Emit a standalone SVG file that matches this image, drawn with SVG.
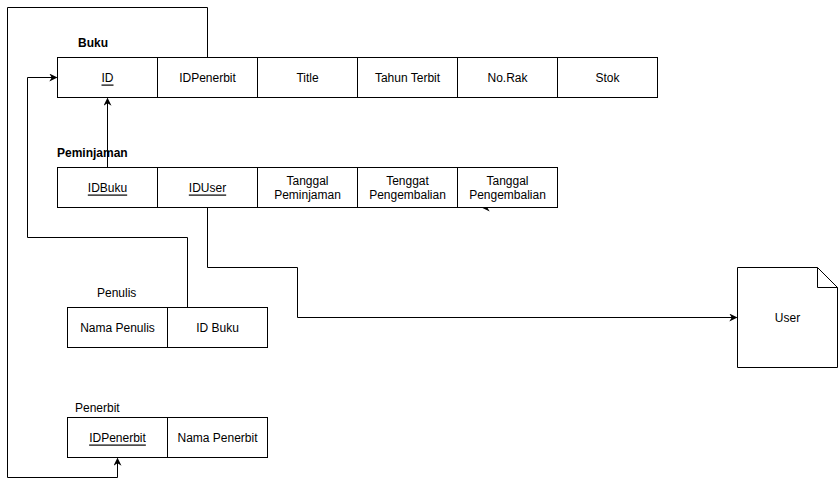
<svg xmlns="http://www.w3.org/2000/svg" width="838" height="487" viewBox="0 0 838 487">
  <style>
    .cell { fill: #ffffff; stroke: #000000; stroke-width: 1; }
    .t { font-family: "Liberation Sans", Arial, Helvetica, sans-serif; font-size: 12px; fill: #000000; text-anchor: middle; dominant-baseline: central; }
    .u { text-decoration: underline; }
    .title { font-family: "Liberation Sans", Arial, Helvetica, sans-serif; font-size: 12px; fill: #000000; }
    .b { font-weight: bold; }
    .edge { fill: none; stroke: #000000; stroke-width: 1; }
  </style>
  <defs>
    <marker id="arrow" viewBox="0 0 10 10" refX="9" refY="5" markerWidth="8" markerHeight="8" markerUnits="userSpaceOnUse" orient="auto">
      <path d="M0,0 L10,5 L0,10 L3,5 Z" fill="#000000"/>
    </marker>
  </defs>

  <rect width="838" height="487" fill="#ffffff"/>

  <!-- connectors -->
  <g id="connectors">
    <path class="edge" d="M207.5,57.5 V7.5 H7.5 V477.5 H117.5 V458.5" marker-end="url(#arrow)"/>
    <path class="edge" d="M107.5,167.5 V98.5" marker-end="url(#arrow)"/>
    <path class="edge" d="M187.5,307.5 V237.5 H27.5 V77.5 H56.5" marker-end="url(#arrow)"/>
    <path class="edge" d="M207.5,207.5 V267.5 H297.5 V317.5 H736.5" marker-end="url(#arrow)"/>
    <path class="edge" d="M492.5,207.5 H482.5" marker-end="url(#arrow)"/>
  </g>

  <!-- Buku -->
  <g id="buku">
    <text class="title b" x="78" y="47">Buku</text>
    <rect class="cell" x="57.5" y="57.5" width="100" height="40"/>
    <rect class="cell" x="157.5" y="57.5" width="100" height="40"/>
    <rect class="cell" x="257.5" y="57.5" width="100" height="40"/>
    <rect class="cell" x="357.5" y="57.5" width="100" height="40"/>
    <rect class="cell" x="457.5" y="57.5" width="100" height="40"/>
    <rect class="cell" x="557.5" y="57.5" width="100" height="40"/>
    <text class="t u" x="107.5" y="77.5">ID</text>
    <text class="t" x="207.5" y="77.5">IDPenerbit</text>
    <text class="t" x="307.5" y="77.5">Title</text>
    <text class="t" x="407.5" y="77.5">Tahun Terbit</text>
    <text class="t" x="507.5" y="77.5">No.Rak</text>
    <text class="t" x="607.5" y="77.5">Stok</text>
  </g>

  <!-- Peminjaman -->
  <g id="peminjaman">
    <text class="title b" x="57" y="157">Peminjaman</text>
    <rect class="cell" x="57.5" y="167.5" width="100" height="40"/>
    <rect class="cell" x="157.5" y="167.5" width="100" height="40"/>
    <rect class="cell" x="257.5" y="167.5" width="100" height="40"/>
    <rect class="cell" x="357.5" y="167.5" width="100" height="40"/>
    <rect class="cell" x="457.5" y="167.5" width="100" height="40"/>
    <text class="t u" x="107.5" y="187.5">IDBuku</text>
    <text class="t u" x="207.5" y="187.5">IDUser</text>
    <text class="t" x="307.5" y="180.5">Tanggal</text>
    <text class="t" x="307.5" y="194.5">Peminjaman</text>
    <text class="t" x="407.5" y="180.5">Tenggat</text>
    <text class="t" x="407.5" y="194.5">Pengembalian</text>
    <text class="t" x="507.5" y="180.5">Tanggal</text>
    <text class="t" x="507.5" y="194.5">Pengembalian</text>
  </g>

  <!-- Penulis -->
  <g id="penulis">
    <text class="title" x="97" y="297">Penulis</text>
    <rect class="cell" x="67.5" y="307.5" width="100" height="40"/>
    <rect class="cell" x="167.5" y="307.5" width="100" height="40"/>
    <text class="t" x="117.5" y="327.5">Nama Penulis</text>
    <text class="t" x="217.5" y="327.5">ID Buku</text>
  </g>

  <!-- Penerbit -->
  <g id="penerbit">
    <text class="title" x="75" y="412">Penerbit</text>
    <rect class="cell" x="67.5" y="417.5" width="100" height="40"/>
    <rect class="cell" x="167.5" y="417.5" width="100" height="40"/>
    <text class="t u" x="117.5" y="437.5">IDPenerbit</text>
    <text class="t" x="217.5" y="437.5">Nama Penerbit</text>
  </g>

  <!-- User document -->
  <g id="user">
    <path class="cell" d="M737.5,267.5 H817.5 L837.5,287.5 V367.5 H737.5 Z"/>
    <path class="edge" d="M817.5,267.5 V287.5 H837.5"/>
    <text class="t" x="787.5" y="317.5">User</text>
  </g>
</svg>
